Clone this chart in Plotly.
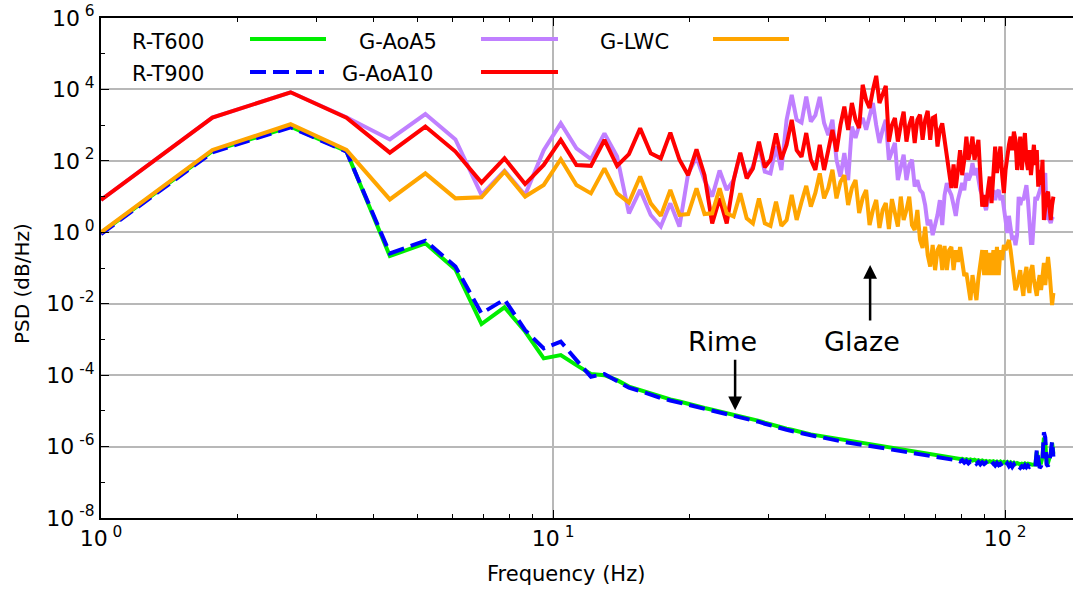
import numpy as np
import plotly.graph_objects as go

# Frequency bins (Hz): the lowest plotted frequency, then the uniform spectral grid
F_LOW = 1.0
F0 = 0.9
DF = 0.8635
N_BINS = 148
freqs = np.concatenate(([F_LOW], F0 + DF * np.arange(1, N_BINS)))

# PSD values as base-10 exponents, one per frequency bin
rt600_exp = [
    -0.02, 2.27, 2.96, 2.27, -0.665, -0.31, -1.04, -2.57, -2.1, -2.78,
    -3.53, -3.44, -3.72, -3.97, -4.0, -4.14, -4.32, -4.42, -4.53, -4.61,
    -4.68, -4.74, -4.81, -4.86, -4.92, -4.97, -5.02, -5.06, -5.09, -5.14,
    -5.19, -5.24, -5.28, -5.33, -5.38, -5.42, -5.47, -5.50, -5.53, -5.57,
    -5.60, -5.63, -5.66, -5.68, -5.70, -5.73, -5.76, -5.78, -5.80, -5.82,
    -5.84, -5.845, -5.86, -5.88, -5.895, -5.91, -5.925, -5.94, -5.955, -5.97,
    -5.985, -6.0, -6.015, -6.03, -6.045, -6.06, -6.075, -6.09, -6.105, -6.12,
    -6.135, -6.14, -6.15, -6.16, -6.175, -6.185, -6.20, -6.21, -6.22, -6.23,
    -6.24, -6.25, -6.26, -6.27, -6.28, -6.29, -6.30, -6.31, -6.32, -6.325,
    -6.335, -6.35, -6.34, -6.37, -6.35, -6.38, -6.36, -6.39, -6.37, -6.40,
    -6.38, -6.41, -6.39, -6.42, -6.40, -6.43, -6.41, -6.43, -6.41, -6.44,
    -6.42, -6.45, -6.42, -6.46, -6.43, -6.46, -6.43, -6.47, -6.44, -6.48,
    -6.45, -6.49, -6.46, -6.49, -6.50, -6.48, -6.50, -6.47, -6.50, -6.48,
    -6.50, -6.49, -6.51, -6.50, -6.50, -6.15, -6.40, -6.45, -6.45, -6.30,
    -5.75, -5.9, -6.45, -6.45, -6.35, -6.2, -5.9, -6.2,
]

rt900_exp = [
    -0.05, 2.24, 2.94, 2.26, -0.59, -0.235, -0.96, -2.27, -1.88, -2.74,
    -3.25, -3.06, -3.58, -4.045, -3.97, -4.165, -4.35, -4.445, -4.56, -4.64,
    -4.71, -4.77, -4.84, -4.89, -4.95, -5.005, -5.05, -5.09, -5.12, -5.17,
    -5.22, -5.27, -5.31, -5.36, -5.41, -5.45, -5.50, -5.53, -5.565, -5.60,
    -5.63, -5.66, -5.69, -5.71, -5.73, -5.76, -5.79, -5.81, -5.83, -5.85,
    -5.87, -5.885, -5.90, -5.92, -5.935, -5.95, -5.965, -5.98, -5.995, -6.01,
    -6.025, -6.04, -6.055, -6.07, -6.085, -6.10, -6.115, -6.13, -6.145, -6.16,
    -6.175, -6.19, -6.20, -6.21, -6.225, -6.235, -6.25, -6.26, -6.27, -6.28,
    -6.29, -6.30, -6.31, -6.32, -6.33, -6.34, -6.35, -6.36, -6.37, -6.375,
    -6.385, -6.42, -6.38, -6.45, -6.40, -6.47, -6.42, -6.46, -6.41, -6.48,
    -6.43, -6.50, -6.44, -6.49, -6.45, -6.52, -6.46, -6.51, -6.47, -6.53,
    -6.46, -6.52, -6.48, -6.56, -6.48, -6.53, -6.47, -6.55, -6.49, -6.57,
    -6.50, -6.58, -6.52, -6.56, -6.60, -6.55, -6.58, -6.52, -6.58, -6.53,
    -6.57, -6.54, -6.58, -6.55, -6.56, -6.08, -6.45, -6.60, -6.55, -6.35,
    -5.6, -5.75, -6.5, -6.55, -6.4, -6.2, -5.85, -6.28,
]

aoa5_exp = [
    0.905, 3.21, 3.92, 3.22, 2.6, 3.31, 2.6, 1.045, 1.725, 1.045,
    2.3, 3.05, 2.35, 2.05, 2.77, 2.12, 0.53, 1.185, 0.485, 0.16,
    0.81, 0.16, 1.65, 2.1, 1.46, 1.0, 1.73, 1.185, 1.46, 2.2,
    1.56, 1.84, 2.4, 1.7, 1.65, 2.4, 1.745, 3.15, 3.85, 3.15,
    3.07, 3.8, 3.1, 3.28, 3.79, 3.06, 2.72, 3.15, 2.03, 1.56,
    2.22, 1.46, 2.96, 2.64, 3.0, 3.2, 2.87, 3.2, 3.62, 3.0,
    2.5, 2.87, 3.15, 2.03, 2.3, 2.5, 1.46, 1.885, 2.17, 1.46,
    1.885, 2.03, 1.28, 1.46, 1.18, 1.1, 0.76, 0.2, 0.35, -0.08,
    0.2, 0.49, 0.9, 0.2, 1.04, 1.38, 1.18, 1.04, 0.76, 0.46,
    0.9, 1.18, 1.38, 1.18, 1.66, 1.46, 1.6, 1.94, 1.6, 1.8,
    1.46, 1.18, 1.04, 0.76, 0.62, 0.9, 1.13, 0.9, 1.18, 0.9,
    1.13, 1.18, 0.9, 1.04, 0.62, 0.2, -0.02, 0.46, 0.2, -0.215,
    -0.1, -0.36, -0.08, 0.99, 0.76, 0.96, 0.9, 1.18, 1.32, 0.9,
    0.2, -0.3, -0.3, 0.2, 0.99, 0.9, 1.04, 1.1, 1.32, 1.46,
    1.6, 1.66, 0.35, 0.49, 0.35, 0.26, 0.4, 0.44,
]

aoa10_exp = [
    0.905, 3.21, 3.92, 3.21, 2.23, 2.96, 2.26, 1.39, 2.07, 1.35,
    1.885, 2.585, 1.885, 1.86, 2.585, 1.86, 2.19, 2.91, 2.21, 2.07,
    2.79, 2.03, 1.6, 2.32, 1.6, 0.25, 0.95, 0.25, 1.46, 2.23,
    1.51, 1.79, 2.54, 1.82, 2.03, 2.77, 2.04, 2.45, 3.15, 2.30,
    2.11, 2.78, 2.03, 1.745, 2.445, 1.745, 2.30, 2.865, 2.26, 3.0,
    3.52, 2.865, 3.62, 3.15, 2.92, 4.13, 3.70, 3.48, 3.99, 4.38,
    3.62, 3.85, 4.10, 2.54, 3.0, 3.2, 2.54, 3.0, 3.38, 2.54,
    3.0, 3.24, 2.5, 3.15, 3.29, 2.59, 3.15, 3.4, 2.59, 3.2,
    3.24, 2.4, 2.87, 3.05, 2.59, 2.14, 1.75, 1.24, 1.9, 1.24,
    1.745, 2.3, 1.6, 2.03, 2.68, 2.03, 2.3, 2.68, 2.03, 2.3,
    2.59, 1.6, 0.72, 1.04, 0.72, 1.18, 1.56, 0.82, 1.745, 2.4,
    1.66, 2.03, 2.4, 1.6, 1.1, 1.745, 2.17, 2.45, 2.68, 2.3,
    2.82, 2.59, 1.745, 2.3, 2.68, 1.745, 2.3, 2.78, 2.03, 1.745,
    2.3, 1.6, 2.03, 2.45, 1.885, 2.3, 1.28, 1.745, 1.33, 2.03,
    0.345, 0.76, 1.04, 1.14, 0.625, 0.345, 0.76, 1.0,
]

lwc_exp = [
    0.0, 2.305, 3.025, 2.305, 0.92, 1.65, 0.95, 0.98, 1.7, 1.0,
    1.325, 2.045, 1.325, 1.09, 1.79, 1.09, 0.83, 1.56, 0.81, 0.46,
    1.185, 0.485, 0.51, 1.23, 0.51, 0.53, 1.23, 0.53, 0.44, 1.09,
    0.39, 0.25, 0.95, 0.25, 0.18, 0.86, 0.18, 0.345, 1.045, 0.345,
    0.85, 1.3, 0.72, 1.1, 1.65, 0.95, 1.24, 1.75, 0.95, 1.41,
    1.6, 0.765, 1.24, 1.465, 0.54, 0.96, 1.185, 0.2, 0.625, 0.905,
    0.12, 0.625, 0.82, 0.09, 0.93, 0.485, 0.157, 1.0, 0.345, 0.625,
    1.0, 0.2, 0.065, 0.625, -0.215, -0.44, 0.157, -0.635, -0.96, -0.355,
    -1.06, -0.5, -0.355, -1.06, -0.38, -1.06, -0.5, -0.41, -1.06, -0.5,
    -0.83, -0.41, -0.92, -1.22, -1.14, -1.62, -1.9, -1.2, -1.62, -1.9,
    -1.28, -0.78, -0.5, -1.2, -0.5, -1.2, -0.58, -1.2, -0.5, -1.2,
    -0.41, -1.2, -0.5, -0.78, -0.355, -0.5, -0.355, -0.215, -0.5, -0.92,
    -1.34, -1.62, -1.5, -1.2, -1.06, -1.48, -1.78, -1.2, -0.97, -1.48,
    -1.7, -1.06, -0.92, -1.34, -1.62, -1.78, -1.42, -1.2, -1.62, -1.2,
    -0.86, -1.48, -0.92, -0.69, -1.06, -1.76, -2.04, -1.7,
]

x_tick_vals = [1, 10, 100]
x_tick_text = [f"10<sup>&#160;{e}</sup>" for e in (0, 1, 2)]
y_tick_exps = [-8, -6, -4, -2, 0, 2, 4, 6]
y_tick_vals = [10.0 ** e for e in y_tick_exps]
y_tick_text = [f"10<sup>&#160;{e}</sup>" for e in y_tick_exps]
x_minor_vals = [m * d for d in (1, 10, 100) for m in range(2, 10)]
y_minor_vals = [10.0 ** e for e in (-7, -5, -3, -1, 1, 3, 5)]

FONT = "DejaVu Sans"
BLUE_DASH = "16px,7px"
LINE_W = 4

series = [
    ("R-T600", rt600_exp, "#00ee00", "solid"),
    ("R-T900", rt900_exp, "#0000ff", BLUE_DASH),
    ("G-AoA5", aoa5_exp, "#c080ff", "solid"),
    ("G-AoA10", aoa10_exp, "#ff0000", "solid"),
    ("G-LWC", lwc_exp, "#ffa500", "solid"),
]

fig = go.Figure()
for name, exps, color, dash in series:
    fig.add_trace(go.Scatter(
        x=freqs, y=np.power(10.0, exps), mode="lines", name=name,
        line=dict(color=color, width=LINE_W, dash=dash),
        showlegend=False,
    ))

# Plot-area geometry (in figure pixels) used to place the key
L, R, T, B = 101, 1073, 18, 518


def px_x(px):
    return (px - L) / (R - L)


def px_y(py):
    return (B - py) / (B - T)


key_entries = [
    ("R-T600", 206, 42, 250, 326, 39, "#00ee00", "solid"),
    ("R-T900", 206, 74, 250, 324, 72, "#0000ff", BLUE_DASH),
    ("G-AoA5", 439, 42, 481, 558, 39, "#c080ff", "solid"),
    ("G-AoA10", 435, 74, 481, 558, 72, "#ff0000", "solid"),
    ("G-LWC", 671, 42, 713, 789, 39, "#ffa500", "solid"),
]

annotations = []
shapes = []
for label, tx, ty, x0, x1, ly, color, dash in key_entries:
    annotations.append(dict(
        text=label, xref="paper", yref="paper", x=px_x(tx), y=px_y(ty),
        xanchor="right", yanchor="middle", showarrow=False,
        font=dict(family=FONT, size=21, color="black"),
    ))
    shapes.append(dict(
        type="line", xref="paper", yref="paper",
        x0=px_x(x0), x1=px_x(x1), y0=px_y(ly), y1=px_y(ly),
        line=dict(color=color, width=LINE_W, dash=dash),
    ))

# Regime labels and arrows (log-axis annotation coordinates are exponents)
annotations += [
    dict(text="Rime", x=np.log10(23.65), y=-3.045, xref="x", yref="y",
         showarrow=False, font=dict(family=FONT, size=27, color="black")),
    dict(text="Glaze", x=np.log10(48.3), y=-3.045, xref="x", yref="y",
         showarrow=False, font=dict(family=FONT, size=27, color="black")),
    dict(text="", x=np.log10(25.27), y=-4.98, xref="x", yref="y",
         showarrow=True, ax=0, ay=-52, arrowhead=2, arrowsize=1.1,
         arrowwidth=2.5, arrowcolor="black"),
    dict(text="", x=np.log10(50.26), y=-0.916, xref="x", yref="y",
         showarrow=True, ax=0, ay=57, arrowhead=2, arrowsize=1.1,
         arrowwidth=2.5, arrowcolor="black"),
    dict(text="Frequency (Hz)", xref="paper", yref="paper",
         x=px_x(566), y=px_y(574), xanchor="center", yanchor="middle",
         showarrow=False, font=dict(family=FONT, size=21, color="black")),
    dict(text="PSD (dB/Hz)", xref="paper", yref="paper",
         x=px_x(22), y=px_y(284), xanchor="center", yanchor="middle",
         showarrow=False, textangle=-90,
         font=dict(family=FONT, size=20, color="black")),
]

fig.update_layout(
    width=1073, height=590,
    margin=dict(l=L, r=1073 - R, t=T, b=590 - B),
    paper_bgcolor="white", plot_bgcolor="white",
    font=dict(family=FONT, size=20, color="black"),
    annotations=annotations, shapes=shapes, showlegend=False,
)
fig.update_xaxes(
    type="log", range=[0, 2.15],
    tickmode="array", tickvals=x_tick_vals, ticktext=x_tick_text,
    tickfont=dict(family=FONT, size=22, color="black"),
    ticks="inside", ticklen=8, tickcolor="black",
    showline=True, linecolor="black", linewidth=2, mirror="ticks",
    showgrid=True, gridcolor="#b8b8b8", gridwidth=1.5,
    minor=dict(tickmode="array", tickvals=x_minor_vals, ticks="inside",
               ticklen=4, tickcolor="black", showgrid=False),
)
fig.update_yaxes(
    type="log", range=[-8, 6],
    tickmode="array", tickvals=y_tick_vals, ticktext=y_tick_text,
    tickfont=dict(family=FONT, size=22, color="black"),
    ticks="inside", ticklen=8, tickcolor="black",
    showline=True, linecolor="black", linewidth=2, mirror=False,
    showgrid=True, gridcolor="#b8b8b8", gridwidth=1.5,
    minor=dict(tickmode="array", tickvals=y_minor_vals, ticks="inside",
               ticklen=4, tickcolor="black", showgrid=False),
)

fig.write_html("out.html")
